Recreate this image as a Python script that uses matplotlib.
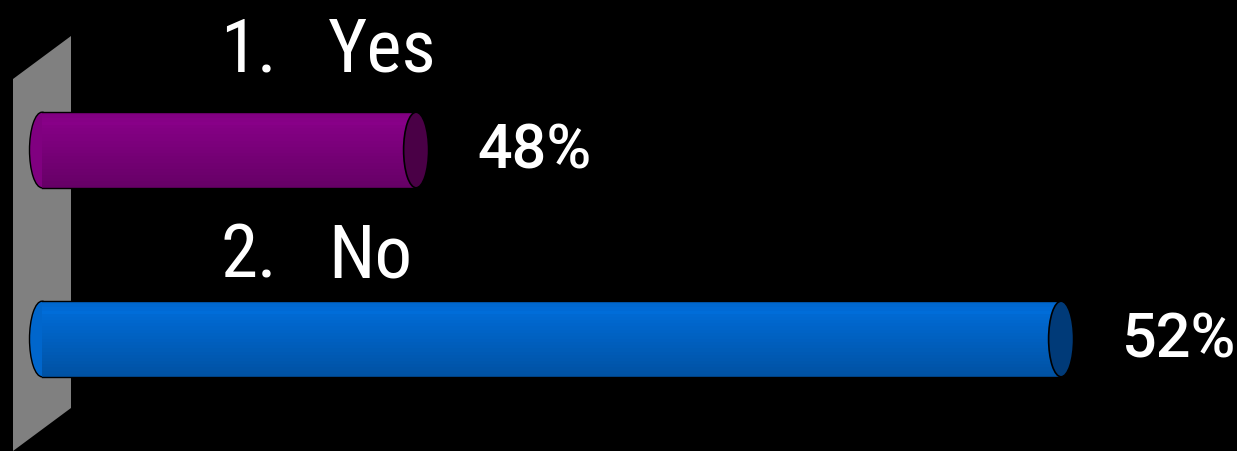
import numpy as np
import matplotlib.pyplot as plt
from matplotlib.patches import Ellipse, Polygon
from matplotlib.colors import to_rgb

# data
numbers = ["1.", "2."]
answers = ["Yes", "No"]
percents = [48, 52]
colors = ["#800080", "#0066cc"]
cap_colors = ["#4a0046", "#003a78"]

AXIS_START = 45.68  # value where the bars leave the wall
K = 161.25          # pixels per percent point
W, H = 1237, 451

fig = plt.figure(figsize=(W / 100, H / 100), dpi=100, facecolor="black")
ax = fig.add_axes([0, 0, 1, 1])
ax.set_facecolor("black")
ax.set_xlim(AXIS_START - 42 / K, AXIS_START + (W - 42) / K)
ax.set_ylim((H - 150) / 189, -150 / 189)
ax.axis("off")

# grey back wall (behind the bars)
wall_px = [(13, 79), (71, 36), (71, 408), (13, 451)]
wall = Polygon([(x / W, 1 - y / H) for x, y in wall_px], closed=True,
               transform=ax.transAxes, facecolor="#808080",
               edgecolor="none", zorder=1)
ax.add_patch(wall)

bar_h = 0.4
cap_w = 25 / K
n = 24
for i, (p, c, cc) in enumerate(zip(percents, colors, cap_colors)):
    base = np.array(to_rgb(c))
    # shaded body made of thin strips
    for j in range(n):
        t = j / (n - 1)
        shade = 1.08 - 0.28 * t if t > 0.15 else 1.0 + 0.5 * t
        col = np.clip(base * shade, 0, 1)
        y0 = i - bar_h / 2 + j * bar_h / n
        ax.barh(y0 + bar_h / (2 * n), p - AXIS_START, height=bar_h / n,
                left=AXIS_START, color=col, edgecolor="none", zorder=3)
    # left rounded end
    ax.add_patch(Ellipse((AXIS_START, i), cap_w, bar_h, facecolor=c,
                         edgecolor="black", lw=1, zorder=2))
    ax.plot([AXIS_START, p], [i - bar_h / 2, i - bar_h / 2], color="black",
            lw=1, zorder=4)
    ax.plot([AXIS_START, p], [i + bar_h / 2, i + bar_h / 2], color="black",
            lw=1, zorder=4)
    # right end cap
    ax.add_patch(Ellipse((p, i), cap_w, bar_h, facecolor=cc,
                         edgecolor="black", lw=1.2, zorder=5))
    ax.annotate(f"{p}%", xy=(p, i), xytext=(44, -1), textcoords="offset points",
                va="center", ha="left", color="white", fontsize=44,
                fontweight="medium", family=["Roboto", "DejaVu Sans"])

# question labels above the bars
label_fmt = dict(color="white", fontsize=54,
                 family=["Roboto Condensed", "Roboto", "DejaVu Sans"],
                 va="baseline", ha="left")
label_y = [H - 72, H - 277]
for num, ans, yy in zip(numbers, answers, label_y):
    fig.text(220 / W, yy / H, num, **label_fmt)
    fig.text(328 / W, yy / H, ans, **label_fmt)

fig.savefig("out.png", dpi=100, facecolor="black")
